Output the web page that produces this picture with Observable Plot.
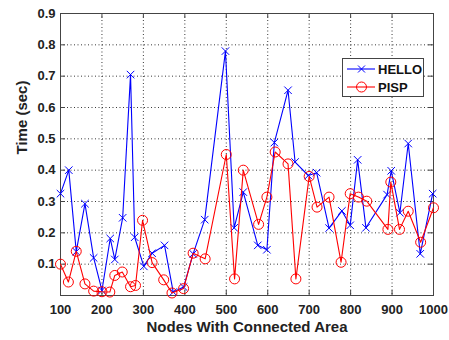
<!DOCTYPE html>
<html><head><meta charset="utf-8">
<script src="https://cdn.jsdelivr.net/npm/d3@7"></script>
<script src="https://cdn.jsdelivr.net/npm/@observablehq/plot@0.6"></script>
<style>
body{margin:0;background:#fff;}
#wrap{position:relative;width:449px;height:340px;font-family:"Liberation Sans",Arial,sans-serif;}
#legend{position:absolute;left:342px;top:58px;width:80px;height:37px;border:1px solid #444;background:#fff;}
#legend svg{display:block;}
</style></head><body><div id="wrap"></div>
<script>
const seriesNames = ["HELLO", "PISP"];
const seriesColors = ["#0000ff", "#ff0000"];
const helloX = [100,120,138,159,180,200,220,231,250,269,279,301,321,351,372,397,420,448,498,519,541,576,598,616,649,666,698,718,748,779,799,817,837,888,898,919,939,968,998];
const helloY = [0.325,0.40,0.14,0.293,0.12,0.016,0.182,0.115,0.248,0.705,0.186,0.093,0.135,0.16,0.011,0.027,0.133,0.242,0.78,0.216,0.33,0.16,0.146,0.488,0.655,0.426,0.383,0.392,0.215,0.27,0.224,0.433,0.216,0.322,0.398,0.264,0.485,0.133,0.325];
const pispX = [100,119,138,159,180,200,219,231,249,269,281,298,321,349,369,397,420,449,500,520,541,578,598,618,649,668,700,719,748,777,799,819,839,890,897,918,939,969,1000];
const pispY = [0.10,0.043,0.141,0.037,0.014,0.012,0.011,0.064,0.075,0.028,0.032,0.24,0.105,0.05,0.008,0.022,0.135,0.117,0.45,0.053,0.40,0.227,0.314,0.458,0.42,0.053,0.38,0.282,0.314,0.106,0.325,0.314,0.301,0.211,0.362,0.211,0.269,0.17,0.28];
const xTicks = [100,200,300,400,500,600,700,800,900,1000];
const yTicks = [0.1,0.2,0.3,0.4,0.5,0.6,0.7,0.8,0.9];
const xGrid = [200,300,400,500,600,700,800,900];
const yGrid = [0.1,0.2,0.3,0.4,0.5,0.6,0.7,0.8];
const xLabel = "Nodes With Connected Area";
const yLabel = "Time (sec)";

const hello = helloX.map((x, i) => ({x, y: helloY[i]}));
const pisp = pispX.map((x, i) => ({x, y: pispY[i]}));

const W = 449, H = 340, mL = 60, mR = 16, mT = 13, mB = 45;
const pw = W - mL - mR, ph = H - mT - mB;
const font = "Liberation Sans, Arial, sans-serif";

const chart = Plot.plot({
  width: W, height: H,
  marginLeft: mL, marginRight: mR, marginTop: mT, marginBottom: mB,
  style: {fontFamily: font, background: "#fff", color: "#222"},
  x: {domain: [100, 1000]},
  y: {domain: [0, 0.9]},
  marks: [
    Plot.gridX(xGrid, {stroke: "#222", strokeOpacity: 0.9, strokeDasharray: "1,2.5"}),
    Plot.gridY(yGrid, {stroke: "#222", strokeOpacity: 0.9, strokeDasharray: "1,2.5"}),
    Plot.tickX(xTicks, {x: d => d, insetTop: ph - 5, stroke: "#444"}),
    Plot.tickX(xTicks, {x: d => d, insetBottom: ph - 5, stroke: "#444"}),
    Plot.tickY(yTicks, {y: d => d, insetRight: pw - 5, stroke: "#444"}),
    Plot.tickY(yTicks, {y: d => d, insetLeft: pw - 5, stroke: "#444"}),
    Plot.frame({stroke: "#444"}),
    Plot.axisX(xTicks, {tickSize: 0, tickPadding: 9, fontSize: 13, fontWeight: "bold", fill: "#222", label: null, tickFormat: d3.format("d")}),
    Plot.axisY(yTicks, {tickSize: 0, tickPadding: 5, fontSize: 13, fontWeight: "bold", fill: "#222", label: null, tickFormat: d3.format(".1f")}),
    Plot.line(hello, {x: "x", y: "y", stroke: seriesColors[0], strokeWidth: 1.1}),
    Plot.dot(hello, {x: "x", y: "y", symbol: "times", r: 3.5, stroke: seriesColors[0], strokeWidth: 1}),
    Plot.line(pisp, {x: "x", y: "y", stroke: seriesColors[1], strokeWidth: 1.1}),
    Plot.dot(pisp, {x: "x", y: "y", symbol: "circle", r: 5, stroke: seriesColors[1], strokeWidth: 1, fill: "none"}),
    Plot.text([xLabel], {text: d => d, frameAnchor: "bottom", dy: 36, fontSize: 15, fontWeight: "bold", fill: "#222"}),
    Plot.text([yLabel], {text: d => d, frameAnchor: "left", dx: -38, rotate: -90, fontSize: 15, fontWeight: "bold", fill: "#222"})
  ]
});
const wrap = document.getElementById("wrap");
wrap.appendChild(chart);

const legend = document.createElement("div");
legend.id = "legend";
const rows = seriesNames.map((name, i) => {
  const cy = 10 + i * 18;
  const marker = i === 0
    ? `<path d="M15,${cy-3.5}L22,${cy+3.5}M15,${cy+3.5}L22,${cy-3.5}" stroke="${seriesColors[i]}" stroke-width="1"/>`
    : `<circle cx="18.5" cy="${cy}" r="5" stroke="${seriesColors[i]}" fill="none" stroke-width="1"/>`;
  return `<line x1="4" x2="32" y1="${cy}" y2="${cy}" stroke="${seriesColors[i]}" stroke-width="1.1"/>${marker}
  <text x="35" y="${cy + 4.5}" font-family="${font}" font-weight="bold" font-size="13" fill="#111">${name}</text>`;
}).join("");
legend.innerHTML = `<svg width="80" height="37">${rows}</svg>`;
wrap.appendChild(legend);
</script>
</body></html>
